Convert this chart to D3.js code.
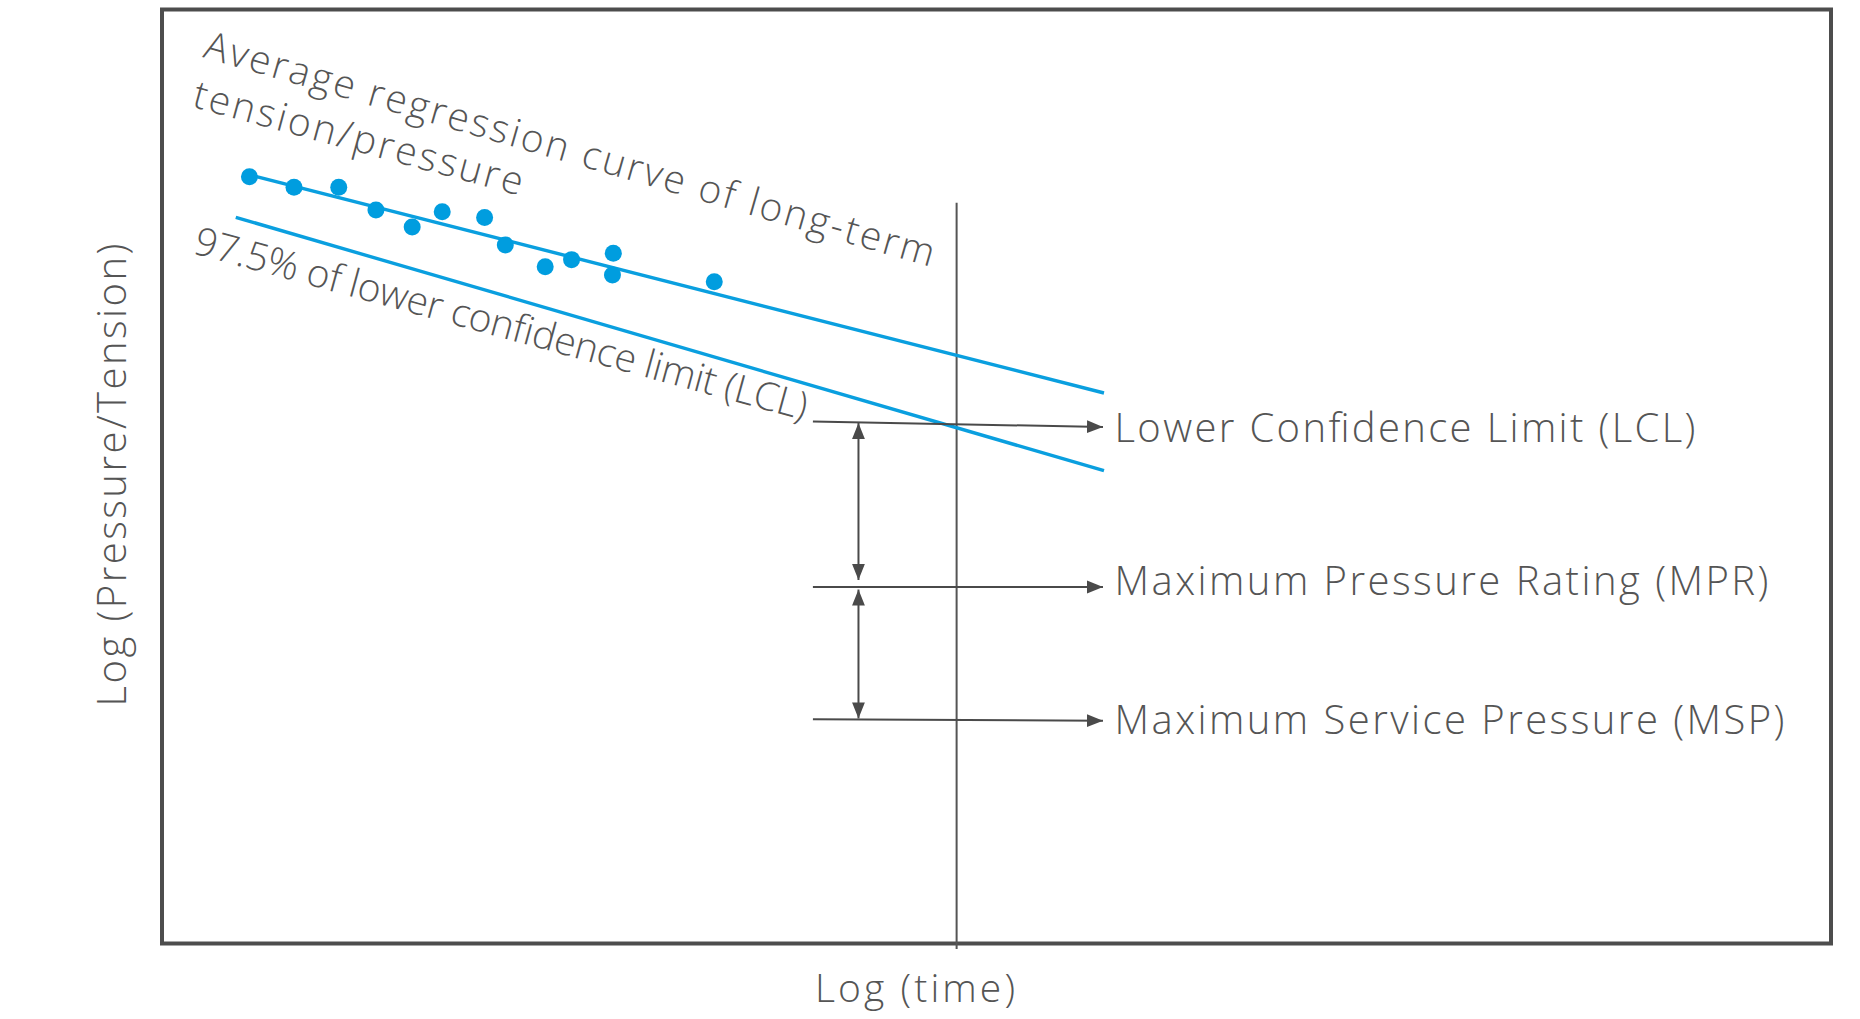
<!DOCTYPE html>
<html><head><meta charset="utf-8">
<script src="https://cdn.jsdelivr.net/npm/d3@7"></script>
<style>html,body{margin:0;padding:0;background:#fff;} svg{display:block;}</style>
</head><body>
<svg id="chart" width="1860" height="1019"></svg>
<script>
// ---------- data (arbitrary log units, 0..100 on each axis) ----------
const pointX = [5.24, 7.91, 10.59, 12.82, 14.99, 16.79, 19.33, 20.57, 22.96, 24.54, 27.04, 26.99, 33.09];
const pointY = [82.10, 80.96, 80.96, 78.53, 76.71, 78.35, 77.73, 74.79, 72.46, 73.22, 73.90, 71.57, 70.86];
const regressionX = [5.24, 56.44];
const regressionY = [82.30, 58.94];
const lclX = [4.42, 56.44];
const lclY = [77.75, 50.62];
const designTime = [47.61];
const designSpanY = [79.32, -0.59];
const levelNames = ["Lower Confidence Limit (LCL)", "Maximum Pressure Rating (MPR)", "Maximum Service Pressure (MSP)"];
const levelStartY = [55.89, 38.17, 24.00];
const levelEndY = [55.30, 38.17, 23.85];
const levelArrowX = [39.0, 56.38];
const gapArrowX = [41.73];
const gapArrowTop = [55.73, 37.90];
const gapArrowBottom = [38.92, 24.09];
const xAxisTitle = "Log (time)";
const yAxisTitle = "Log (Pressure/Tension)";
const annotationTexts = ["Average regression curve of long-term", "tension/pressure", "97.5% of lower confidence limit (LCL)"];

// ---------- layout ----------
const svg = d3.select("#chart");
const x = d3.scaleLinear().domain([0, 100]).range([162, 1831]);
const y = d3.scaleLinear().domain([0, 100]).range([943.5, 9.5]);
const BLUE = "#0a9fdf", DOT = "#009ddf", GREY = "#4a4a4a", TXT = "#555555";
const FONT = "'Open Sans', 'Noto Sans', sans-serif";

const defs = svg.append("defs");
defs.append("marker").attr("id", "arr")
  .attr("markerUnits", "userSpaceOnUse").attr("markerWidth", 16).attr("markerHeight", 14)
  .attr("viewBox", "0 0 15 12").attr("refX", 15).attr("refY", 6)
  .attr("orient", "auto-start-reverse")
  .append("path").attr("d", "M0,0 L15,6 L0,12 Z").attr("fill", GREY);

// frame
svg.append("rect")
  .attr("x", x(0)).attr("y", y(100))
  .attr("width", x(100) - x(0)).attr("height", y(0) - y(100))
  .attr("fill", "none").attr("stroke", "#4d4d4d").attr("stroke-width", 4);

// design time vertical line
svg.append("line")
  .attr("x1", x(designTime[0])).attr("x2", x(designTime[0]))
  .attr("y1", y(designSpanY[0])).attr("y2", y(designSpanY[1]))
  .attr("stroke", "#555").attr("stroke-width", 2);

// regression lines
const lineGen = d3.line().x(d => x(d[0])).y(d => y(d[1]));
svg.append("path").datum(d3.zip(regressionX, regressionY))
  .attr("d", lineGen).attr("fill", "none").attr("stroke", BLUE).attr("stroke-width", 3.4);
svg.append("path").datum(d3.zip(lclX, lclY))
  .attr("d", lineGen).attr("fill", "none").attr("stroke", BLUE).attr("stroke-width", 3.4);

// points
svg.append("g").selectAll("circle").data(d3.zip(pointX, pointY)).join("circle")
  .attr("cx", d => x(d[0])).attr("cy", d => y(d[1])).attr("r", 8.5).attr("fill", DOT);

// level arrows
svg.append("g").selectAll("line").data(levelNames).join("line")
  .attr("x1", x(levelArrowX[0])).attr("x2", x(levelArrowX[1]))
  .attr("y1", (d, i) => y(levelStartY[i])).attr("y2", (d, i) => y(levelEndY[i]))
  .attr("stroke", GREY).attr("stroke-width", 2).attr("marker-end", "url(#arr)");

// gap double arrows
svg.append("g").selectAll("line").data(gapArrowTop).join("line")
  .attr("x1", x(gapArrowX[0])).attr("x2", x(gapArrowX[0]))
  .attr("y1", d => y(d)).attr("y2", (d, i) => y(gapArrowBottom[i]))
  .attr("stroke", GREY).attr("stroke-width", 2)
  .attr("marker-start", "url(#arr)").attr("marker-end", "url(#arr)");

function fit(sel, target) {
  sel.attr("textLength", target).attr("lengthAdjust", "spacing");
}

// level labels
const labelBase = [441.5, 595, 734];
const labelW = [581, 654, 670];
levelNames.forEach((t, i) => {
  const s = svg.append("text").text(t)
    .attr("x", 1114.5).attr("y", labelBase[i])
    .attr("font-family", FONT).attr("font-weight", 300).attr("font-size", 40).attr("fill", TXT);
  fit(s, labelW[i]);
});

// axis titles
const xt = svg.append("text").text(xAxisTitle)
  .attr("x", 915).attr("y", 1001.5).attr("text-anchor", "middle")
  .attr("font-family", FONT).attr("font-weight", 300).attr("font-size", 39).attr("fill", TXT);
fit(xt, 200);
const yt = svg.append("text").text(yAxisTitle)
  .attr("transform", "translate(126,475) rotate(-90)").attr("text-anchor", "middle")
  .attr("font-family", FONT).attr("font-weight", 300).attr("font-size", 40).attr("fill", TXT);
fit(yt, 463);

// rotated annotations
const annPos = [[202, 57, 16.07, 758], [191, 106.5, 15.2, 340], [192, 253, 15.3, 634]];
annotationTexts.forEach((t, i) => {
  const p = annPos[i];
  const s = svg.append("text").text(t)
    .attr("transform", `translate(${p[0]},${p[1]}) rotate(${p[2]})`)
    .attr("font-family", FONT).attr("font-weight", 300).attr("font-size", 39).attr("fill", TXT);
  fit(s, p[3]);
});
</script>
</body></html>
